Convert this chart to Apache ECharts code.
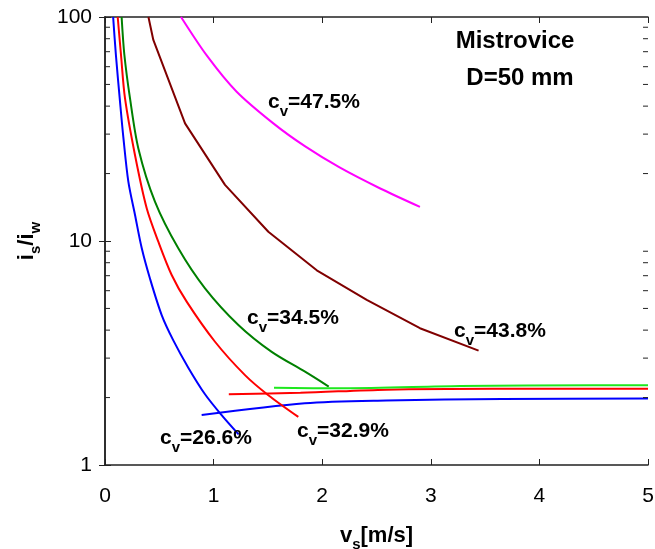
<!DOCTYPE html>
<html>
<head>
<meta charset="utf-8">
<script src="https://cdn.jsdelivr.net/npm/echarts@6/dist/echarts.min.js"></script>
<style>html,body{margin:0;padding:0;background:#fff}#c{width:655px;height:549px}</style>
</head>
<body>
<div id="c"></div>
<script>
// ---- data ----
const xTicks = [0, 1, 2, 3, 4, 5];
const yTicks = [1, 10, 100];
const yMinorTicks = [2, 3, 4, 5, 6, 7, 8, 9, 20, 30, 40, 50, 60, 70, 80, 90];

const cv266Steep = [[0.075,100],[0.10,68],[0.138,42],[0.169,29],[0.215,18.4],[0.276,13.1],[0.338,9.3],[0.414,6.8],[0.522,4.67],[0.629,3.6],[0.767,2.72],[0.921,2.07],[1.074,1.67],[1.23,1.37]];
const cv266Flat  = [[0.89,1.67],[1.84,1.885],[2.59,1.94],[3.66,1.97],[5.0,1.98]];
const cv329Steep = [[0.117,100],[0.147,68],[0.184,43.4],[0.276,24.2],[0.384,14.0],[0.491,9.93],[0.614,7.05],[0.752,5.36],[1.013,3.55],[1.289,2.52],[1.504,2.05],[1.78,1.64]];
const cv329Flat  = [[1.14,2.07],[1.80,2.10],[2.59,2.17],[3.57,2.19],[5.0,2.19]];
const cv345Steep = [[0.153,100],[0.178,68],[0.230,43.4],[0.307,25.9],[0.460,15.0],[0.675,9.28],[0.921,6.15],[1.228,4.22],[1.535,3.2],[1.842,2.61],[2.06,2.24]];
const cv345Flat  = [[1.556,2.21],[2.2,2.2],[3.27,2.25],[4.49,2.27],[5.0,2.27]];
const cv438      = [[0.40,100],[0.445,79],[0.737,33.5],[1.105,17.8],[1.504,11.0],[1.95,7.4],[2.41,5.46],[2.90,4.08],[3.44,3.24]];
const cv475      = [[0.70,100],[0.94,67],[1.21,46.5],[1.55,33.5],[1.84,26.5],[2.16,21.3],[2.53,17.2],[2.90,14.2]];

const labels = [
  {text: '47.5%', x: 268, y: 102},
  {text: '34.5%', x: 247, y: 318},
  {text: '43.8%', x: 454, y: 331},
  {text: '26.6%', x: 160, y: 438},
  {text: '32.9%', x: 297, y: 431}
];

// ---- chart ----
const FONT = "'Liberation Sans', Arial, Helvetica, sans-serif";
const AX = '#222';
const chart = echarts.init(document.getElementById('c'), null, {renderer: 'canvas'});

const cvRich = {
  m: {fontSize: 21, fontWeight: 'bold', fontFamily: FONT, color: '#000', fill: '#000', lineHeight: 24},
  s: {fontSize: 15, fontWeight: 'bold', fontFamily: FONT, color: '#000', fill: '#000', lineHeight: 15, padding: [20, 0, 0, 0]}
};
const nameRich = {
  m: {fontSize: 22, fontWeight: 'bold', fontFamily: FONT, color: '#000', lineHeight: 26},
  s: {fontSize: 15, fontWeight: 'bold', fontFamily: FONT, color: '#000', lineHeight: 15, padding: [17, 0, 0, 0]}
};

function line(data, color, smooth) {
  return {
    type: 'line', data: data, showSymbol: false, symbol: 'none',
    smooth: smooth,
    lineStyle: {color: color, width: 2}, itemStyle: {color: color},
    silent: true, animation: false, z: 3
  };
}

const series = [
  line(cv266Steep, '#0000ff', 0.3),
  line(cv266Flat, '#0000ff', 0.3),
  line(cv329Steep, '#ff0000', 0.3),
  line(cv329Flat, '#ff0000', 0.3),
  line(cv345Steep, '#008000', 0.3),
  line(cv345Flat, '#1ee81e', 0.3),
  line(cv438, '#800000', false),
  line(cv475, '#ff00ff', 0.3),
  {
    type: 'custom',
    data: yMinorTicks.map(v => [0, v]),
    clip: false, silent: true, animation: false, z: 5,
    renderItem: function (params, api) {
      const v = api.value(1);
      const l = api.coord([xTicks[0], v]);
      const r = api.coord([xTicks[xTicks.length - 1], v]);
      const st = {stroke: AX, lineWidth: 1};
      return {type: 'group', children: [
        {type: 'line', shape: {x1: l[0], y1: l[1], x2: l[0] + 5, y2: l[1]}, style: st},
        {type: 'line', shape: {x1: r[0], y1: r[1], x2: r[0] - 5, y2: r[1]}, style: st}
      ]};
    }
  }
];

const axisLine = {show: true, lineStyle: {color: AX, width: 1.5}};
const tick = {show: true, inside: true, length: 6, lineStyle: {color: AX, width: 1}};

const option = {
  animation: false,
  backgroundColor: '#fff',
  grid: {left: 105, right: 7, top: 17, bottom: 84, containLabel: false, outerBoundsMode: 'none'},
  xAxis: [
    {
      type: 'value', min: xTicks[0], max: xTicks[xTicks.length - 1], interval: 1, position: 'bottom',
      axisLine: axisLine, axisTick: tick, splitLine: {show: false},
      axisLabel: {fontSize: 21, fontFamily: FONT, color: '#000', margin: 21},
      name: '{m|v}{s|s}{m|[m/s]}', nameLocation: 'middle', nameGap: 58,
      nameTextStyle: {rich: nameRich}
    },
    {
      type: 'value', min: xTicks[0], max: xTicks[xTicks.length - 1], interval: 1, position: 'top',
      axisLine: axisLine, axisTick: tick, splitLine: {show: false}, axisLabel: {show: false}
    }
  ],
  yAxis: [
    {
      type: 'log', logBase: 10, min: yTicks[0], max: yTicks[yTicks.length - 1], position: 'left',
      axisLine: axisLine, axisTick: tick, splitLine: {show: false}, minorTick: {show: false},
      axisLabel: {fontSize: 21, fontFamily: FONT, color: '#000', margin: 13},
      name: '{m|i}{s|s}{m|/i}{s|w}', nameLocation: 'middle', nameGap: 65, nameRotate: 90,
      nameTextStyle: {rich: nameRich}
    },
    {
      type: 'log', logBase: 10, min: yTicks[0], max: yTicks[yTicks.length - 1], position: 'right',
      axisLine: axisLine, axisTick: tick, splitLine: {show: false}, axisLabel: {show: false}
    }
  ],
  series: series,
  graphic: labels.map(l => ({
    type: 'text', x: l.x, y: l.y, silent: true, z: 10,
    style: {text: '{m|c}{s|v}{m|=' + l.text + '}', rich: cvRich, textAlign: 'left', textVerticalAlign: 'middle'}
  })).concat([
    {type: 'text', x: 515, y: 29, silent: true, z: 10,
     style: {text: 'Mistrovice', fontSize: 24, fontWeight: 'bold', fontFamily: FONT, fill: '#000', textAlign: 'center', textVerticalAlign: 'top'}},
    {type: 'text', x: 520, y: 66, silent: true, z: 10,
     style: {text: 'D=50 mm', fontSize: 24, fontWeight: 'bold', fontFamily: FONT, fill: '#000', textAlign: 'center', textVerticalAlign: 'top'}}
  ])
};
chart.setOption(option);
</script>
</body>
</html>
